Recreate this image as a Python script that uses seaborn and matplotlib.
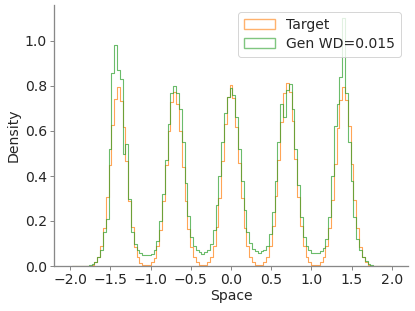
import numpy as np
import pandas as pd
import matplotlib
matplotlib.use("Agg")
import matplotlib.pyplot as plt
import seaborn as sns
from matplotlib.patches import Rectangle

# bin index k -> bin centre k * 0.035, k = -56 .. 56
bin_index = list(range(-56, 57))
bin_width = 0.035

target_density = [
    0, 0, 0, 0, 0.0005, 0.001,
    0.002, 0.006, 0.017, 0.038, 0.09, 0.168, 0.305, 0.45, 0.625, 0.74,
    0.795, 0.735, 0.62, 0.465, 0.29, 0.175, 0.085, 0.041, 0.015, 0.006,
    0.004,
    0.006, 0.016, 0.037, 0.087, 0.162, 0.29, 0.45, 0.60, 0.73, 0.775,
    0.72, 0.60, 0.44, 0.29, 0.165, 0.083, 0.039, 0.016, 0.006,
    0.004,
    0.006, 0.016, 0.040, 0.09, 0.175, 0.30, 0.465, 0.63, 0.75, 0.805,
    0.745, 0.62, 0.46, 0.30, 0.17, 0.088, 0.04, 0.016, 0.006,
    0.004,
    0.006, 0.017, 0.041, 0.09, 0.178, 0.31, 0.47, 0.64, 0.77, 0.815,
    0.775, 0.645, 0.475, 0.305, 0.18, 0.09, 0.041, 0.016, 0.006,
    0.004,
    0.006, 0.016, 0.039, 0.088, 0.17, 0.295, 0.455, 0.615, 0.74, 0.795,
    0.74, 0.62, 0.455, 0.295, 0.17, 0.086, 0.04, 0.016, 0.006, 0.002,
    0.001, 0.0005, 0, 0, 0, 0,
]

gen_density = [
    0, 0, 0, 0, 0.001, 0.001,
    0.003, 0.008, 0.02, 0.04, 0.07, 0.15, 0.21, 0.52, 0.86, 0.98,
    0.87, 0.83, 0.50, 0.54, 0.30, 0.15, 0.10, 0.07, 0.06, 0.05,
    0.048,
    0.05, 0.055, 0.07, 0.11, 0.20, 0.32, 0.47, 0.63, 0.77, 0.80,
    0.77, 0.70, 0.55, 0.37, 0.22, 0.13, 0.09, 0.07, 0.06,
    0.055,
    0.06, 0.07, 0.10, 0.16, 0.27, 0.40, 0.55, 0.68, 0.75, 0.79,
    0.76, 0.66, 0.52, 0.38, 0.25, 0.15, 0.10, 0.075, 0.065,
    0.06,
    0.065, 0.07, 0.09, 0.14, 0.24, 0.38, 0.55, 0.72, 0.66, 0.78,
    0.81, 0.70, 0.52, 0.36, 0.22, 0.13, 0.09, 0.07, 0.06,
    0.058,
    0.058, 0.065, 0.08, 0.12, 0.22, 0.40, 0.62, 0.72, 0.84, 1.10,
    0.77, 0.55, 0.38, 0.22, 0.12, 0.07, 0.04, 0.02, 0.008, 0.003,
    0.001, 0, 0, 0, 0, 0,
]

labels = ["Target", "Gen WD=0.015"]
colors = ["#ff7f0e", "#2ca02c"]

centers = np.array(bin_index) * bin_width
edges = [float((i + bin_index[0] - 0.5) * bin_width)
         for i in range(len(bin_index) + 1)]

sns.set_style("ticks")
plt.rcParams["font.family"] = ["DejaVu Sans"]

fig = plt.figure(figsize=(415 / 72, 311 / 72), dpi=72)
ax = fig.add_axes([54 / 415, 45 / 311, (408 - 54) / 415, (266 - 5) / 311])

for lab, col, vals in zip(labels, colors, [target_density, gen_density]):
    df = pd.DataFrame({"x": centers, "w": vals})
    sns.histplot(data=df, x="x", weights="w", stat="count",
                 bins=edges, element="step", fill=False, color=col,
                 alpha=0.7, linewidth=1.1, ax=ax)

ax.set_xlim(-2.2, 2.2)
ax.set_ylim(0, 1.16)
ax.set_xticks([-2.0, -1.5, -1.0, -0.5, 0.0, 0.5, 1.0, 1.5, 2.0])
ax.set_yticks([0.0, 0.2, 0.4, 0.6, 0.8, 1.0])
ax.set_xlabel("Space", fontsize=14, labelpad=2)
ax.set_ylabel("Density", fontsize=14, labelpad=4)
ax.tick_params(labelsize=14, length=4, width=1, color="#888888", pad=3)
for s in ["top", "right"]:
    ax.spines[s].set_visible(False)
for s in ["left", "bottom"]:
    ax.spines[s].set_color("#888888")
    ax.spines[s].set_linewidth(1.3)

handles = [Rectangle((0, 0), 1, 1, fill=False,
                     edgecolor=matplotlib.colors.to_rgba(c, 0.6),
                     linewidth=1.4)
           for c in colors]
ax.legend(handles, labels, loc="upper right", fontsize=14,
          frameon=True, framealpha=0.8, borderaxespad=0.5,
          handlelength=2.2, handletextpad=0.85, labelspacing=0.4,
          borderpad=0.4)

fig.savefig("out.png", dpi=72)
